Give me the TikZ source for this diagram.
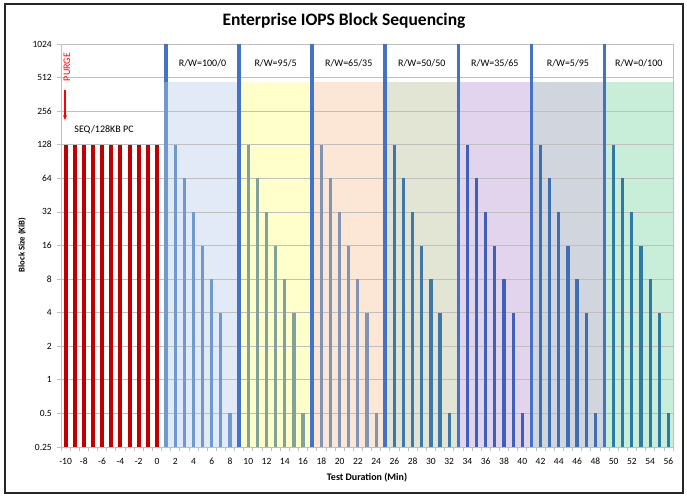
\documentclass[tikz,border=0pt]{standalone}
\usepackage{fontspec}
\setmainfont{Carlito}
\usetikzlibrary{arrows.meta}
\definecolor{gridc}{HTML}{BFBFBF}
\definecolor{redbar}{HTML}{C00000}
\definecolor{divc}{HTML}{4472C4}
\definecolor{shA}{HTML}{E1EAF6}
\definecolor{shB}{HTML}{FFFFCC}
\definecolor{shC}{HTML}{FCE6D6}
\definecolor{shD}{HTML}{E2E5D3}
\definecolor{shE}{HTML}{E2D4EC}
\definecolor{shF}{HTML}{D0D5DE}
\definecolor{shG}{HTML}{C8EED9}
\definecolor{bA}{HTML}{6E9AD0}
\definecolor{bB}{HTML}{7FA39A}
\definecolor{bC}{HTML}{8294B4}
\definecolor{bD}{HTML}{3F78A8}
\definecolor{bE}{HTML}{3F5FB8}
\definecolor{bF}{HTML}{3E6EB3}
\definecolor{bG}{HTML}{2F7AA5}
\begin{document}
\begin{tikzpicture}[x=1pt,y=-1pt,
  ticklab/.style={font=\fontsize{9.5}{11}\selectfont, inner sep=0pt},
  seclab/.style={font=\fontsize{10}{12}\selectfont, inner sep=1pt},
  gridline/.style={gridc, line width=0.8pt}]
\useasboundingbox (0,0) rectangle (687,497);
\fill[white] (0,0) rectangle (687,497);
% shading
\foreach \d/\c in {1/shA,9/shB,17/shC,25/shD,33/shE,41/shF,49/shG}{
  \pgfmathsetmacro{\xa}{61+(\d+10.5)*9.134}
  \pgfmathsetmacro{\xb}{min(673,61+(\d+18.5)*9.134)}
  \fill[\c] (\xa,82) rectangle (\xb,447);
}
% grid
\foreach \k in {0,...,12}{
  \pgfmathsetmacro{\yy}{447-\k*33.583}
  \draw[gridline] (61,\yy) -- (673,\yy);
  \draw[gridc, line width=0.8pt] (57,\yy) -- (61,\yy);
}
\draw[gridc, line width=0.8pt] (61,44) rectangle (673,447);
% x ticks
\foreach \j in {0,...,67}{
  \pgfmathsetmacro{\xx}{61+\j*9.134}
  \draw[gridc, line width=0.7pt] (\xx,447) -- (\xx,451);
}
% y labels
\foreach \k/\t in {0/0.25,1/0.5,2/1,3/2,4/4,5/8,6/16,7/32,8/64,9/128,10/256,11/512,12/1024}{
  \pgfmathsetmacro{\yy}{447-\k*33.583}
  \node[ticklab, anchor=east] (yl\k) at (52,\yy) {\t};
}
% x labels
\foreach \c in {-10,-8,...,56}{
  \pgfmathsetmacro{\xx}{61+(\c+10.5)*9.134}
  \node[ticklab] (xl\c) at (\xx,461) {\c};
}
% red bars
\foreach \c in {-10,...,0}{
  \pgfmathsetmacro{\xx}{61+(\c+10.5)*9.134}
  \fill[redbar] (\xx-2,144.8) rectangle (\xx+2,447);
}
% dividers
\foreach \d in {1,9,17,25,33,41,49}{
  \pgfmathsetmacro{\xx}{61+(\d+10.5)*9.134}
  \fill[divc] (\xx-1.8,44) rectangle (\xx+1.8,447);
}
\pgfmathsetmacro{\xx}{61+11.5*9.134}
\fill[bA] (\xx-1.8,82) rectangle (\xx+1.8,447);
% section bars
\foreach \d/\col in {1/bA,9/bB,17/bC,25/bD,33/bE,41/bF,49/bG}{
  \foreach \j/\k in {1/9,2/8,3/7,4/6,5/5,6/4,7/1}{
    \pgfmathsetmacro{\xx}{61+(\d+\j+10.5)*9.134}
    \pgfmathsetmacro{\yy}{447-\k*33.583}
    \fill[\col] (\xx-1.6,\yy) rectangle (\xx+1.6,447);
  }
}
% section labels
\foreach \d/\t [count=\i] in {1/{R/W=100/0},9/{R/W=95/5},17/{R/W=65/35},25/{R/W=50/50},33/{R/W=35/65},41/{R/W=5/95},49/{R/W=0/100}}{
  \pgfmathsetmacro{\xa}{61+(\d+10.5)*9.134}
  \pgfmathsetmacro{\xb}{min(673,61+(\d+18.5)*9.134)}
  \node[seclab] (sec\i) at ({(\xa+\xb)/2},63) {\t};
}
% purge
\node[rotate=90, text=red, font=\fontsize{10}{12}\selectfont, inner sep=0pt] (purge) at (67,67) {PURGE};
\coordinate (pa) at (65,90);
\coordinate (pb) at (65,120);
\draw[red, line width=1.2pt, -{Stealth[length=5pt,width=4pt]}] (pa) -- (pb);
\node[font=\fontsize{10}{12}\selectfont] (seq) at (104,130) {SEQ/128KB PC};
% titles
\node[font=\bfseries\fontsize{17.5}{20}\selectfont] (title) at (344,21) {Enterprise IOPS Block Sequencing};
\node[rotate=90, font=\bfseries\fontsize{8.7}{10}\selectfont] (ylab) at (22,245) {Block Size (KiB)};
\node[font=\bfseries\fontsize{10}{12}\selectfont] (xlab) at (367,478) {Test Duration (Min)};
% frame
\draw[black!85, line width=1.6pt] (5,4) rectangle (683,493);
\end{tikzpicture}
\end{document}
